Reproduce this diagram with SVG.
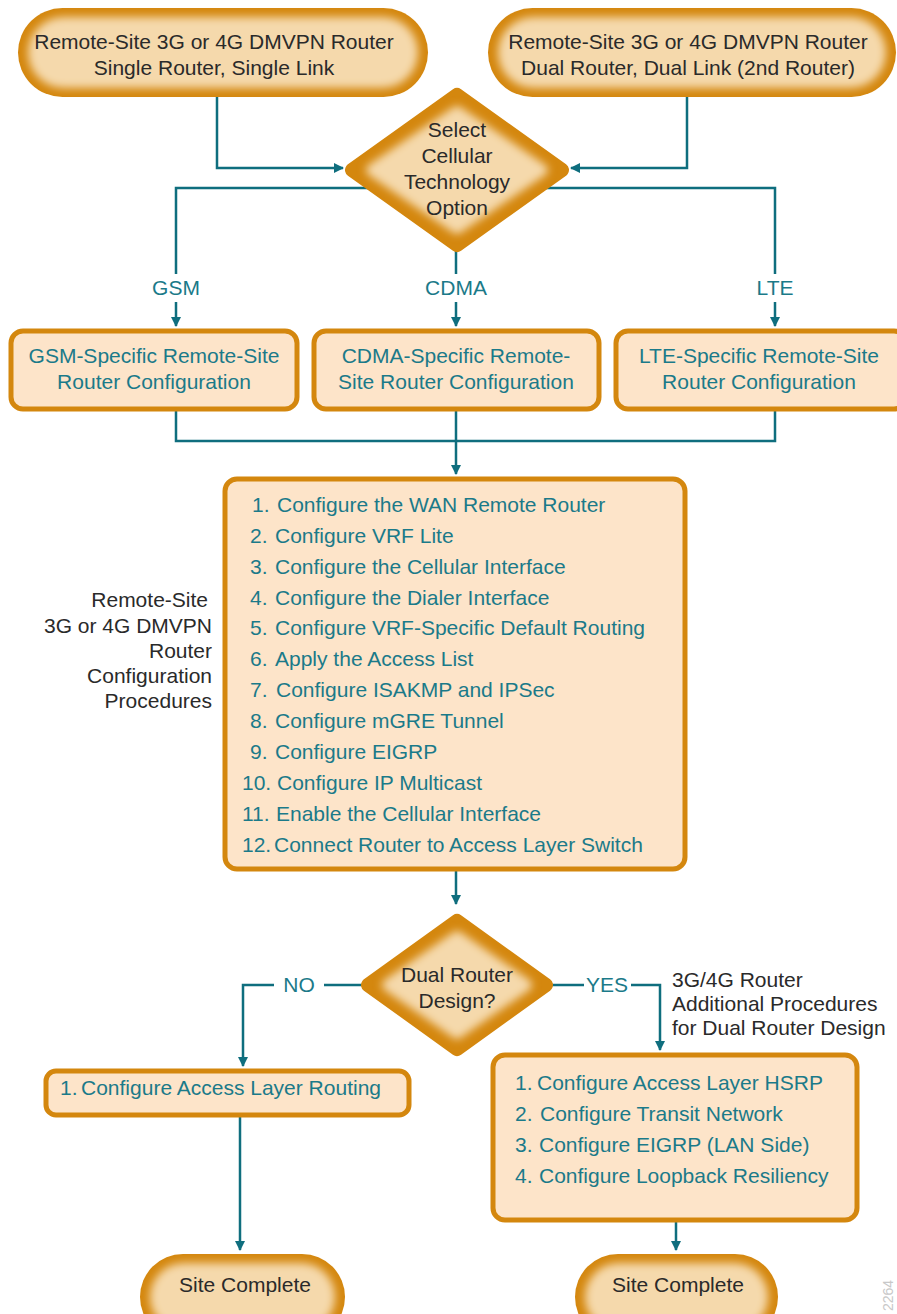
<svg xmlns="http://www.w3.org/2000/svg" width="897" height="1314" viewBox="0 0 897 1314">
<defs>
<style>
.t{font-family:"Liberation Sans",Arial,sans-serif;font-size:21px;fill:#2a2a2a}
.tl{font-family:"Liberation Sans",Arial,sans-serif;font-size:21px;fill:#1b7a89}
.c{text-anchor:middle}
.r{text-anchor:end}
.ln{fill:none;stroke:#0f6e7e;stroke-width:2.5}
.box{fill:#fde4c9;stroke:#d4870e;stroke-width:5}
.outer{fill:#d4870e}
.inner{fill:#f5d9ac;filter:url(#bl)}
</style>
<filter id="bl" x="-20%" y="-40%" width="140%" height="180%"><feGaussianBlur stdDeviation="4"/></filter>
<marker id="ah" markerWidth="12" markerHeight="12" refX="9" refY="5" orient="auto" markerUnits="userSpaceOnUse">
<path d="M0,0 L10,5 L0,10 Z" fill="#0f6e7e"/>
</marker>
</defs>
<rect width="897" height="1314" fill="#ffffff"/>

<g id="connectors">
<path class="ln" d="M217,97 V168 H343" marker-end="url(#ah)"/>
<path class="ln" d="M687,97 V168 H571" marker-end="url(#ah)"/>
<path class="ln" d="M372,188 H176 V274"/>
<path class="ln" d="M176,302 V326" marker-end="url(#ah)"/>
<path class="ln" d="M456,250 V274"/>
<path class="ln" d="M456,302 V326" marker-end="url(#ah)"/>
<path class="ln" d="M542,188 H775 V274"/>
<path class="ln" d="M775,302 V326" marker-end="url(#ah)"/>
<path class="ln" d="M176,410 V441 H775 V410"/>
<path class="ln" d="M456,410 V474" marker-end="url(#ah)"/>
<path class="ln" d="M456,870 V904" marker-end="url(#ah)"/>
<path class="ln" d="M362,985 H324"/>
<path class="ln" d="M274,985 H243 V1066" marker-end="url(#ah)"/>
<path class="ln" d="M551,985 H584"/>
<path class="ln" d="M631,985 H660 V1050" marker-end="url(#ah)"/>
<path class="ln" d="M240,1115 V1250" marker-end="url(#ah)"/>
<path class="ln" d="M676,1220 V1250" marker-end="url(#ah)"/>
<text class="tl c" x="176" y="295">GSM</text>
<text class="tl c" x="456" y="295">CDMA</text>
<text class="tl c" x="775" y="295">LTE</text>
<text class="tl c" x="299" y="992">NO</text>
<text class="tl c" x="607" y="992">YES</text>
</g>

<g id="start-single">
<rect class="outer" x="18" y="8" width="410" height="89" rx="44.5"/>
<rect class="inner" x="28" y="17" width="390" height="71" rx="35.5"/>
<text class="t c" x="214" y="49">Remote-Site 3G or 4G DMVPN Router</text>
<text class="t c" x="214" y="75">Single Router, Single Link</text>
</g>

<g id="start-dual">
<rect class="outer" x="488" y="8" width="408" height="89" rx="44.5"/>
<rect class="inner" x="498" y="17" width="388" height="71" rx="35.5"/>
<text class="t c" x="688" y="49">Remote-Site 3G or 4G DMVPN Router</text>
<text class="t c" x="688" y="75">Dual Router, Dual Link (2nd Router)</text>
</g>

<g id="select-tech">
<polygon points="457,95 562,170 457,245 352,170" fill="#d4870e" stroke="#d4870e" stroke-width="14" stroke-linejoin="round"/>
<polygon points="457,112 542,170 457,228 372,170" fill="#f5d9ac" stroke="#f5d9ac" stroke-width="12" stroke-linejoin="round" filter="url(#bl)"/>
<text class="t c" x="457" y="137">Select</text>
<text class="t c" x="457" y="163">Cellular</text>
<text class="t c" x="457" y="189">Technology</text>
<text class="t c" x="457" y="215">Option</text>
</g>

<g id="gsm">
<rect class="box" x="11" y="331" width="286" height="78" rx="12"/>
<text class="tl c" x="154" y="363">GSM-Specific Remote-Site</text>
<text class="tl c" x="154" y="389">Router Configuration</text>
</g>

<g id="cdma">
<rect class="box" x="314" y="331" width="285" height="78" rx="12"/>
<text class="tl c" x="456" y="363">CDMA-Specific Remote-</text>
<text class="tl c" x="456" y="389">Site Router Configuration</text>
</g>

<g id="lte">
<rect class="box" x="616" y="331" width="290" height="78" rx="12"/>
<text class="tl c" x="759" y="363">LTE-Specific Remote-Site</text>
<text class="tl c" x="759" y="389">Router Configuration</text>
</g>

<g id="procedures">
<rect class="box" x="225" y="479" width="460" height="390" rx="12"/>
<text class="tl" y="512"><tspan x="252">1.</tspan><tspan x="277">Configure the WAN Remote Router</tspan></text>
<text class="tl" y="543"><tspan x="250">2.</tspan><tspan x="275">Configure VRF Lite</tspan></text>
<text class="tl" y="574"><tspan x="250">3.</tspan><tspan x="275">Configure the Cellular Interface</tspan></text>
<text class="tl" y="605"><tspan x="250">4.</tspan><tspan x="275">Configure the Dialer Interface</tspan></text>
<text class="tl" y="635"><tspan x="250">5.</tspan><tspan x="275">Configure VRF-Specific Default Routing</tspan></text>
<text class="tl" y="666"><tspan x="250">6.</tspan><tspan x="275">Apply the Access List</tspan></text>
<text class="tl" y="697"><tspan x="250">7.</tspan><tspan x="276">Configure ISAKMP and IPSec</tspan></text>
<text class="tl" y="728"><tspan x="250">8.</tspan><tspan x="275">Configure mGRE Tunnel</tspan></text>
<text class="tl" y="759"><tspan x="250">9.</tspan><tspan x="275">Configure EIGRP</tspan></text>
<text class="tl" y="790"><tspan x="242">10.</tspan><tspan x="277">Configure IP Multicast</tspan></text>
<text class="tl" y="821"><tspan x="242">11.</tspan><tspan x="276">Enable the Cellular Interface</tspan></text>
<text class="tl" y="852"><tspan x="242">12.</tspan><tspan x="274">Connect Router to Access Layer Switch</tspan></text>
</g>

<g id="procedures-label">
<text class="t r" x="208" y="607">Remote-Site</text>
<text class="t r" x="212" y="633">3G or 4G DMVPN</text>
<text class="t r" x="212" y="658">Router</text>
<text class="t r" x="212" y="683">Configuration</text>
<text class="t r" x="212" y="708">Procedures</text>
</g>

<g id="dual-design">
<polygon points="457,921 546,985 457,1049 368,985" fill="#d4870e" stroke="#d4870e" stroke-width="14" stroke-linejoin="round"/>
<polygon points="457,937 526,985 457,1033 388,985" fill="#f5d9ac" stroke="#f5d9ac" stroke-width="12" stroke-linejoin="round" filter="url(#bl)"/>
<text class="t c" x="457" y="982">Dual Router</text>
<text class="t c" x="457" y="1008">Design?</text>
</g>

<g id="dual-label">
<text class="t" x="672" y="987">3G/4G Router</text>
<text class="t" x="672" y="1011">Additional Procedures</text>
<text class="t" x="672" y="1035">for Dual Router Design</text>
</g>

<g id="access-routing">
<rect class="box" x="46" y="1071" width="363" height="44" rx="10"/>
<text class="tl" y="1095"><tspan x="60">1.</tspan><tspan x="81">Configure Access Layer Routing</tspan></text>
</g>

<g id="dual-procs">
<rect class="box" x="493" y="1055" width="364" height="165" rx="12"/>
<text class="tl" y="1090"><tspan x="515">1.</tspan><tspan x="537">Configure Access Layer HSRP</tspan></text>
<text class="tl" y="1121"><tspan x="515">2.</tspan><tspan x="540">Configure Transit Network</tspan></text>
<text class="tl" y="1152"><tspan x="515">3.</tspan><tspan x="539">Configure EIGRP (LAN Side)</tspan></text>
<text class="tl" y="1183"><tspan x="515">4.</tspan><tspan x="539">Configure Loopback Resiliency</tspan></text>
</g>

<g id="site-complete-1">
<rect class="outer" x="140" y="1254" width="205" height="86" rx="43"/>
<rect class="inner" x="150" y="1263" width="185" height="68" rx="34"/>
<text class="t c" x="245" y="1292">Site Complete</text>
</g>

<g id="site-complete-2">
<rect class="outer" x="575" y="1254" width="203" height="86" rx="43"/>
<rect class="inner" x="585" y="1263" width="183" height="68" rx="34"/>
<text class="t c" x="678" y="1292">Site Complete</text>
</g>

<text x="893" y="1311" transform="rotate(-90 893 1311)" font-family="Liberation Sans,Arial,sans-serif" font-size="14" fill="#c8c8c8">2264</text>
</svg>
